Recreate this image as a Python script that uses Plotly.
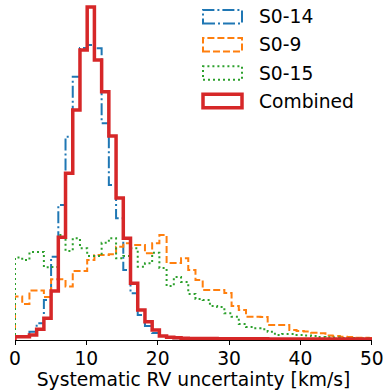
import plotly.graph_objects as go

# ---- data (heights, arbitrary density units) ----
bin_width = 1.0115
n_bins = 50
bin_edges = [i * bin_width for i in range(n_bins + 1)]

s0_14 = [3, 4, 8.3, 16.7, 40, 83.3, 135, 203.3, 263.3, 292, 295, 291.7, 216.7, 155,
         121.7, 70, 46.7, 25, 14, 7, 4, 2.5, 1.8, 1.4, 1.2, 1.1, 1.0, 1.0, 1.0, 1.0,
         1.0, 1.0, 1.0, 1.0, 1.0, 1.0, 1.0, 1.0, 1.0, 1.0, 1.0, 1.0, 1.0, 1.0, 1.0,
         1.0, 1.0, 1.0, 1.0, 1.0]
s0_9 = [43.5, 36, 49.5, 49.5, 43, 60.7, 60.7, 53.5, 69, 69, 80, 85, 85, 85.7, 93.3,
        96.7, 95, 95, 86.7, 96.7, 105, 77, 77, 81.7, 70, 60, 50, 50, 50, 47, 34, 30,
        23.3, 23.3, 23, 15, 15, 15, 10, 9, 8.5, 7.3, 6.7, 4.5, 4, 3.3, 3, 2.3, 2.2, 2]
s0_15 = [82.5, 80, 88, 88, 72.7, 73, 105, 89, 101.7, 91.7, 84, 84, 97.3, 101.7, 81.7,
         84, 91.7, 73.3, 76.7, 87.3, 72, 54, 63, 58, 46, 41, 40, 34, 33, 26.7, 23.3,
         16, 13, 11.7, 10.7, 8.3, 5, 6, 6, 5, 4.5, 4, 3, 2.7, 2.5, 2, 2, 1.5, 1.5, 1]
combined = [3.3, 3.3, 5, 10.7, 21.7, 49, 102.7, 166.7, 230, 290, 333, 280, 248.3, 204,
            142, 101.7, 56.7, 30, 18.3, 10, 4, 2.8, 2.2, 1.8, 1.6, 1.5, 1.4, 1.4, 1.3,
            1.3, 1.3, 1.2, 1.2, 1.2, 1.2, 1.1, 1.1, 1.1, 1.1, 1.0, 1.0, 1.0, 1.0, 1.0,
            1.0, 1.0, 1.0, 1.0, 1.0, 1.0]

names = ["S0-14", "S0-9", "S0-15", "Combined"]
x_ticks = [0, 10, 20, 30, 40, 50]
x_title = "Systematic RV uncertainty [km/s]"

# ---- styles ----
colors = ["#1f77b4", "#ff7f0e", "#2ca02c", "#d62728"]
widths = [2, 2, 2, 3.5]
dashes = ["12px,3px,2px,3px", "7px,3px", "2px,3px", "solid"]
FONT = "DejaVu Sans"
FS = 18.7

W, H = 383, 390
ML, MR, MT, MB = 15, 11, 0, 50
PW, PH = W - ML - MR, H - MT - MB


def step_xy(edges, vals):
    xs = [edges[0]] + edges[:len(vals)] + [edges[len(vals)]]
    ys = [0] + list(vals) + [0]
    return xs, ys


fig = go.Figure()
for vals, name, c, w, d in zip([s0_14, s0_9, s0_15, combined], names, colors, widths, dashes):
    xs, ys = step_xy(bin_edges, vals)
    fig.add_trace(go.Scatter(x=xs, y=ys, mode="lines", line_shape="hv", name=name,
                             line=dict(color=c, width=w, dash=d), showlegend=False,
                             hoverinfo="skip"))

# manual legend (boxes like matplotlib step patches)
def px2paper(px, py):
    return (px - ML) / PW, 1 - (py - MT) / PH

leg_y = [16.7, 44.7, 73, 101]
for name, c, w, d, yc in zip(names, colors, widths, dashes, leg_y):
    x0, y0 = px2paper(203, yc - 6.7)
    x1, y1 = px2paper(242, yc + 6.7)
    fig.add_shape(type="rect", xref="paper", yref="paper", x0=x0, x1=x1, y0=y1, y1=y0,
                  line=dict(color=c, width=w, dash=d), fillcolor="rgba(0,0,0,0)")
    tx, ty = px2paper(257, yc)
    fig.add_annotation(text=name, xref="paper", yref="paper", x=tx, y=ty,
                       xanchor="left", yanchor="middle", showarrow=False,
                       font=dict(family=FONT, size=FS, color="black"))

fig.update_layout(
    width=W, height=H, margin=dict(l=ML, r=MR, t=MT, b=MB),
    paper_bgcolor="white", plot_bgcolor="white", showlegend=False,
    font=dict(family=FONT, size=FS, color="black"),
    xaxis=dict(range=[0, 50.02], tickvals=x_ticks, ticktext=[str(t) for t in x_ticks],
               ticks="outside", ticklen=3.5,
               tickwidth=1, tickcolor="black", showline=True, linecolor="black",
               linewidth=1.3, showgrid=False, zeroline=False, automargin=False,
               ticklabelstandoff=-2, ticklabeloverflow="allow",
               tickfont=dict(family=FONT, size=FS),
               title=dict(text=x_title, font=dict(family=FONT, size=FS), standoff=0)),
    yaxis=dict(range=[0, PH], visible=False, showgrid=False, zeroline=False),
)

fig.write_html("out.html")
